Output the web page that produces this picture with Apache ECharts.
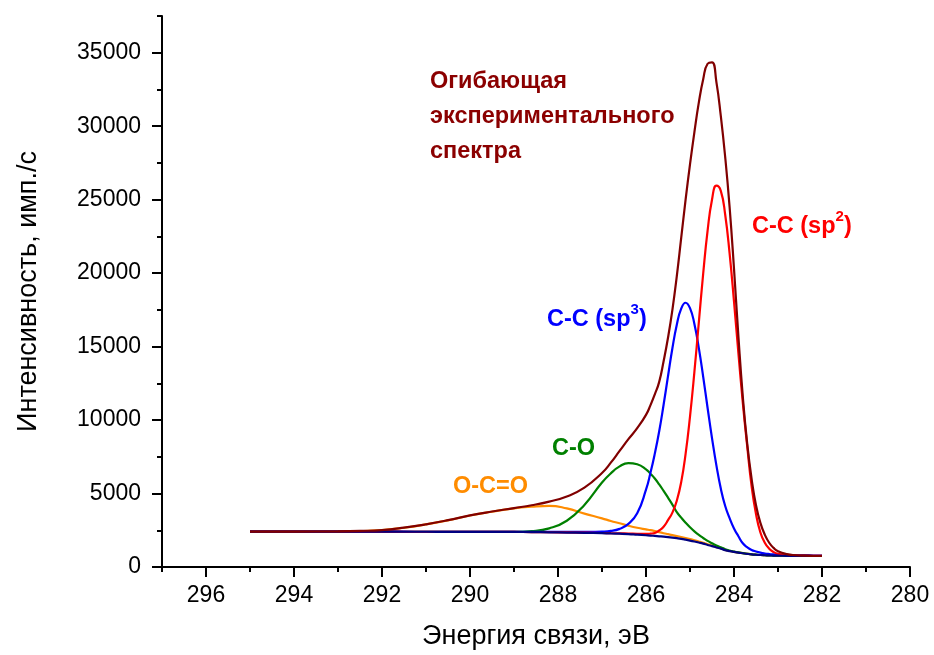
<!DOCTYPE html>
<html><head><meta charset="utf-8">
<script src="https://cdn.jsdelivr.net/npm/echarts@6/dist/echarts.min.js"></script>
<style>html,body{margin:0;padding:0;background:#fff}#c{width:934px;height:655px}</style>
</head><body><div id="c"></div>
<script>
const energy = [295, 294, 293, 292.5, 292, 291.5, 291, 290.5, 290, 289.5, 289, 288.6, 288.2, 287.8, 287.4, 287.0, 286.8, 286.6, 286.4, 286.2, 286.0, 285.9, 285.8, 285.7, 285.6, 285.5, 285.4, 285.3, 285.2, 285.1, 285.0, 284.9, 284.8, 284.7, 284.6, 284.5, 284.4, 284.3, 284.2, 284.1, 284.0, 283.9, 283.8, 283.7, 283.6, 283.5, 283.4, 283.3, 283.2, 283.1, 283.0, 282.8, 282.6, 282.4, 282.2, 282.0];
const envelope = [2412, 2414, 2427, 2455, 2515, 2680, 2905, 3185, 3510, 3775, 4010, 4200, 4450, 4800, 5400, 6400, 7100, 7900, 8700, 9450, 10350, 11000, 11750, 12600, 14000, 15600, 17500, 19800, 22400, 25000, 27400, 29600, 31600, 33200, 34250, 34350, 33000, 30700, 27900, 24500, 20300, 15700, 11600, 8400, 6000, 4200, 3000, 2200, 1650, 1300, 1080, 880, 800, 770, 760, 755];
const ccSp2 = [2410, 2408, 2405, 2403, 2402, 2400, 2398, 2396, 2393, 2390, 2386, 2379, 2366, 2351, 2335, 2315, 2303, 2293, 2280, 2260, 2250, 2270, 2315, 2490, 2745, 3185, 3700, 4510, 5775, 7700, 10240, 13280, 16635, 19975, 22890, 24995, 25950, 25600, 23975, 21345, 18070, 14555, 11190, 8225, 5500, 3600, 2350, 1650, 1250, 1020, 900, 820, 790, 772, 762, 757];
const ccSp3 = [2410, 2408, 2405, 2403, 2403, 2401, 2400, 2399, 2397, 2398, 2396, 2394, 2387, 2385, 2390, 2410, 2453, 2595, 2940, 3650, 5260, 6390, 7715, 9240, 11045, 12985, 14890, 16490, 17585, 17985, 17620, 16545, 14915, 12940, 10820, 8775, 6915, 5340, 4150, 3330, 2625, 2095, 1615, 1345, 1160, 1055, 975, 920, 883, 858, 840, 815, 800, 790, 782, 778];
const cO = [2410, 2408, 2405, 2403, 2402, 2400, 2398, 2396, 2393, 2393, 2399, 2446, 2632, 3145, 4225, 5750, 6373, 6845, 7074, 6988, 6650, 6350, 6020, 5620, 5180, 4720, 4250, 3740, 3363, 3015, 2704, 2429, 2188, 1976, 1780, 1619, 1469, 1345, 1214, 1122, 1052, 993, 946, 902, 864, 838, 817, 801, 788, 778, 770, 760, 755, 752, 750, 750];
const oCeqO = [2410, 2413, 2425, 2443, 2512, 2670, 2898, 3176, 3503, 3760, 3994, 4106, 4162, 3985, 3635, 3310, 3133, 2975, 2810, 2670, 2560, 2510, 2445, 2370, 2300, 2235, 2170, 2110, 2045, 1975, 1900, 1820, 1735, 1645, 1545, 1455, 1355, 1270, 1165, 1090, 1033, 981, 940, 899, 863, 837, 816, 801, 788, 778, 770, 760, 755, 752, 750, 750];
const background = [2410, 2408, 2405, 2403, 2402, 2400, 2398, 2396, 2393, 2390, 2384, 2376, 2362, 2345, 2325, 2300, 2283, 2265, 2240, 2200, 2160, 2140, 2115, 2090, 2065, 2035, 2000, 1960, 1915, 1860, 1800, 1735, 1665, 1590, 1500, 1420, 1330, 1250, 1150, 1080, 1025, 975, 935, 895, 860, 835, 815, 800, 788, 778, 770, 760, 755, 752, 750, 750];

const xMajorTicks = [280, 282, 284, 286, 288, 290, 292, 294, 296];
const xMinorTicks = [281, 283, 285, 287, 289, 291, 293, 295, 297];
const yMajorTicks = [0, 5000, 10000, 15000, 20000, 25000, 30000, 35000];
const yMinorTicks = [2500, 7500, 12500, 17500, 22500, 27500, 32500, 37500];

const FONT = '"Liberation Sans", Arial, sans-serif';
const chart = echarts.init(document.getElementById('c'), null, {renderer: 'canvas'});
function pairs(ys) { return energy.map((e, i) => [e, ys[i]]); }
function line(name, ys, color) {
  return {name: name, type: 'line', data: pairs(ys), showSymbol: false, symbol: 'none',
    smooth: 0.5, lineStyle: {color: color, width: 2.2}, itemStyle: {color: color},
    xAxisIndex: 0, yAxisIndex: 0, z: 2};
}
const tickStyle = {color: '#000', width: 2};
const plain = v => String(v);
const option = {
  animation: false,
  backgroundColor: '#fff',
  grid: {left: 162, right: 24, top: 16, bottom: 88, containLabel: false},
  xAxis: [
    {type: 'value', min: 280, max: 297, inverse: true, position: 'bottom', offset: 0,
      splitLine: {show: false},
      axisLine: {show: true, onZero: false, lineStyle: {color: '#000', width: 2}},
      axisTick: {show: true, customValues: xMajorTicks, length: 10, lineStyle: tickStyle},
      axisLabel: {show: true, customValues: xMajorTicks, formatter: plain, fontSize: 23, color: '#000', margin: 17, fontFamily: FONT},
      name: 'Энергия связи, эВ', nameLocation: 'middle', nameGap: 56,
      nameTextStyle: {fontSize: 27, fontFamily: FONT, color: '#000'}},
    {type: 'value', min: 280, max: 297, inverse: true, position: 'bottom', offset: 0,
      splitLine: {show: false},
      axisLine: {show: false, onZero: false},
      axisTick: {show: true, customValues: xMinorTicks, length: 5, lineStyle: tickStyle},
      axisLabel: {show: false}}
  ],
  yAxis: [
    {type: 'value', min: 0, max: 37500, position: 'left', offset: 0,
      splitLine: {show: false},
      axisLine: {show: true, onZero: false, lineStyle: {color: '#000', width: 2}},
      axisTick: {show: true, customValues: yMajorTicks, length: 10, lineStyle: tickStyle},
      axisLabel: {show: true, customValues: yMajorTicks, formatter: plain, fontSize: 23, color: '#000', margin: 21, fontFamily: FONT},
      name: 'Интенсивность, имп./с', nameLocation: 'middle', nameGap: 120, nameRotate: 90,
      nameTextStyle: {fontSize: 27, fontFamily: FONT, color: '#000'}},
    {type: 'value', min: 0, max: 37500, position: 'left', offset: 0,
      splitLine: {show: false},
      axisLine: {show: false, onZero: false},
      axisTick: {show: true, customValues: yMinorTicks, length: 5, lineStyle: tickStyle},
      axisLabel: {show: false}}
  ],
  series: [
    line('O-C=O', oCeqO, '#ff8c00'),
    line('C-O', cO, '#008000'),
    line('C-C (sp3)', ccSp3, '#0000ff'),
    line('C-C (sp2)', ccSp2, '#ff0000'),
    line('Фон', background, '#000080'),
    line('Огибающая', envelope, '#800000')
  ],
  graphic: [
    {type: 'text', left: 430, top: 64, z: 10,
      style: {text: 'Огибающая\nэкспериментального\nспектра', fill: '#8b0000', fontSize: 23.5, fontWeight: 'bold', fontFamily: FONT, lineHeight: 35}},
    {type: 'text', left: 752, top: 209, z: 10,
      style: {text: '{b|C-C (sp}{s|2}{b|)}', fill: '#ff0000', fontFamily: FONT,
        rich: {b: {fontSize: 23.5, fontWeight: 'bold', fontFamily: FONT, fill: '#ff0000', lineHeight: 36},
               s: {fontSize: 15, fontWeight: 'bold', fontFamily: FONT, fill: '#ff0000', lineHeight: 15, verticalAlign: 'top'}}}},
    {type: 'text', left: 547, top: 302, z: 10,
      style: {text: '{b|C-C (sp}{s|3}{b|)}', fill: '#0000ff', fontFamily: FONT,
        rich: {b: {fontSize: 23.5, fontWeight: 'bold', fontFamily: FONT, fill: '#0000ff', lineHeight: 36},
               s: {fontSize: 15, fontWeight: 'bold', fontFamily: FONT, fill: '#0000ff', lineHeight: 15, verticalAlign: 'top'}}}},
    {type: 'text', left: 552, top: 437, z: 10,
      style: {text: 'C-O', fill: '#008000', fontSize: 23.5, fontWeight: 'bold', fontFamily: FONT, lineHeight: 24}},
    {type: 'text', left: 453, top: 475, z: 10,
      style: {text: 'O-C=O', fill: '#ff8c00', fontSize: 23.5, fontWeight: 'bold', fontFamily: FONT, lineHeight: 24}}
  ]
};
chart.setOption(option);
</script>
</body></html>
